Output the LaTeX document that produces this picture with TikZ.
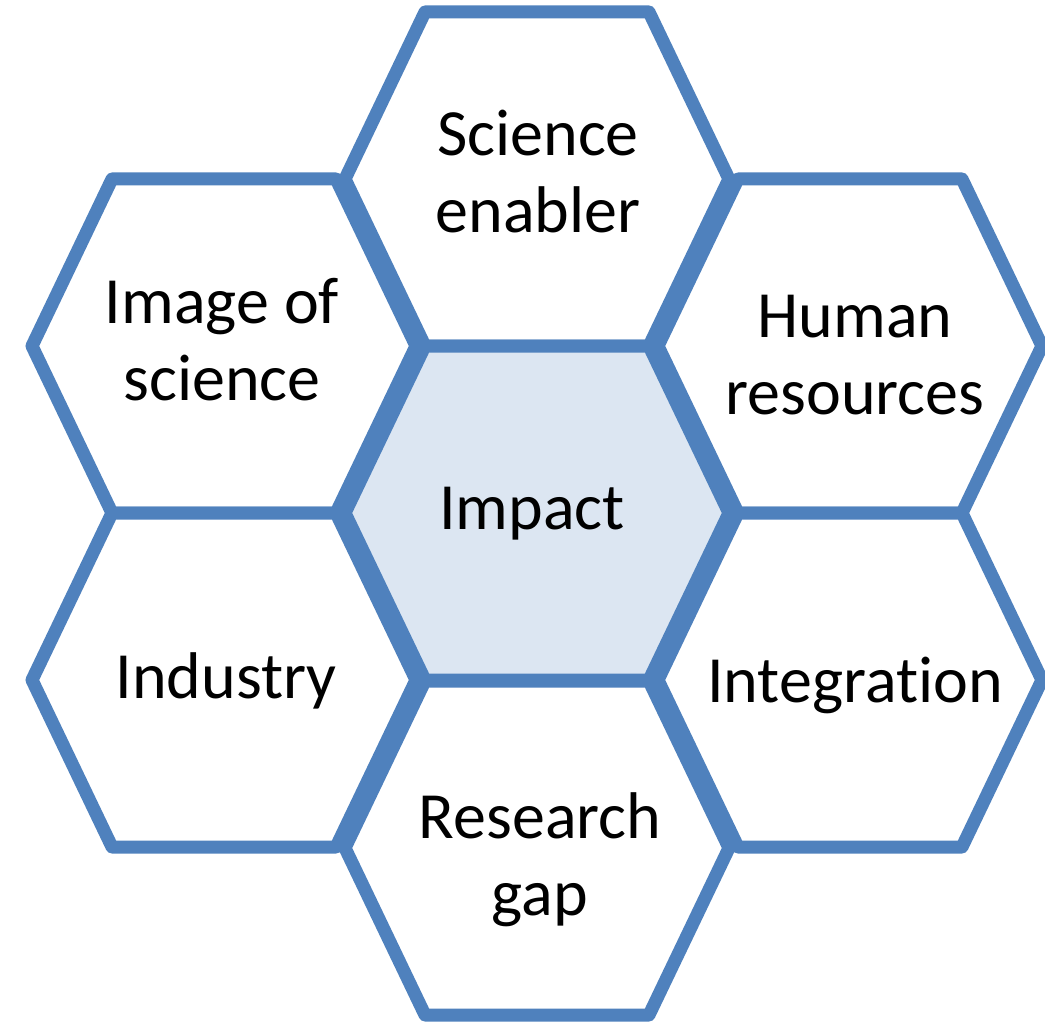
\documentclass[tikz,border=0pt]{standalone}
\usepackage{fontspec}
\setmainfont[Ligatures={NoCommon}]{Carlito}
\definecolor{hexblue}{HTML}{4F81BD}
\definecolor{hexfill}{HTML}{DCE6F2}
\begin{document}
\begin{tikzpicture}[x=1pt,y=-1pt,
  hexline/.style={draw=hexblue,line width=13pt,line join=round},
  hexlabel/.style={inner sep=0pt,align=center,font=\fontsize{66}{77}\selectfont},
  hex/.pic={\path[hexline,pic actions] (-192,0) -- (-112,-167) -- (112,-167) -- (192,0) -- (112,167) -- (-112,167) -- cycle;}]
\useasboundingbox (0,0) rectangle (1045,1022);
% outer hexagons
\pic[fill=white] at (537,179) {hex};
\pic[fill=white] at (224,346) {hex};
\pic[fill=white] at (850,346) {hex};
\pic[fill=white] at (224,680) {hex};
\pic[fill=white] at (850,680) {hex};
\pic[fill=white] at (537,848) {hex};
% centre hexagon
\pic[fill=hexfill] at (537,513) {hex};
% labels
\node[hexlabel] (sci) at (538,179) {\strut Science\\\strut enabler};
\node[hexlabel] (img) at (222,347) {\strut Image of\\\strut science};
\node[hexlabel] (hum) at (855,361) {\strut Human\\\strut resources};
\node[hexlabel] (imp) at (532,514) {\strut Impact};
\node[hexlabel] (ind) at (226,683) {\strut Industry};
\node[hexlabel] (int) at (855,687) {\strut Integration};
\node[hexlabel] (res) at (540,862) {\strut Research\\\strut gap};
\end{tikzpicture}
\end{document}
